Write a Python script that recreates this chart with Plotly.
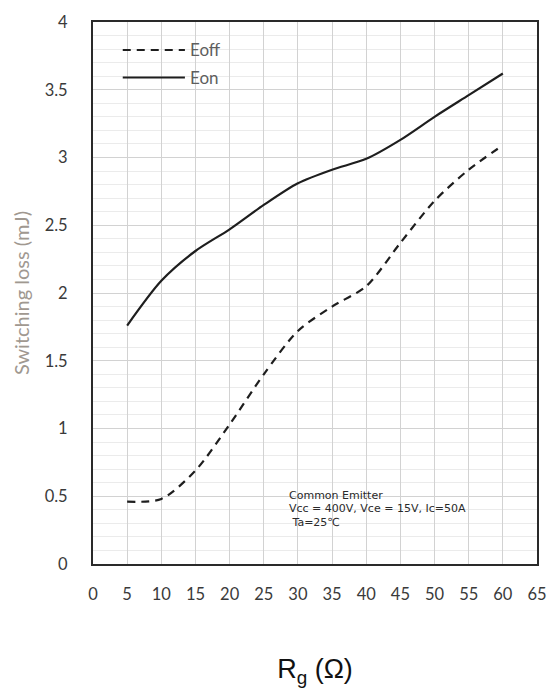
import plotly.graph_objects as go

# ---- data ----
rg = [5, 10, 15, 20, 25, 30, 35, 40, 45, 50, 55, 60]
eon = [1.76, 2.09, 2.31, 2.47, 2.65, 2.81, 2.91, 2.99, 3.13, 3.30, 3.46, 3.62]
eoff = [0.46, 0.48, 0.69, 1.03, 1.40, 1.72, 1.90, 2.05, 2.37, 2.68, 2.91, 3.09]
series_names = ["Eoff", "Eon"]
x_ticks = list(range(0, 70, 5))
y_ticks = [0, 0.5, 1, 1.5, 2, 2.5, 3, 3.5, 4]
y_tick_text = ["0", "0.5", "1", "1.5", "2", "2.5", "3", "3.5", "4"]
note_lines = ["Common Emitter", "Vcc = 400V, Vce = 15V, Ic=50A", " Ta=25℃"]

LINE_COLOR = "#1e1e1e"

fig = go.Figure()
fig.add_trace(go.Scatter(x=rg, y=eoff, mode="lines", name=series_names[0],
                         line=dict(color=LINE_COLOR, width=2.2, dash="8px,6px", shape="spline", smoothing=0.8)))
fig.add_trace(go.Scatter(x=rg, y=eon, mode="lines", name=series_names[1],
                         line=dict(color=LINE_COLOR, width=2.2, shape="spline", smoothing=0.8)))

# manual legend (long line samples like the reference)
legend_y = [0.9485, 0.8975]
legend_dash = ["8px,6px", "solid"]
for name, yy, dsh in zip(series_names, legend_y, legend_dash):
    fig.add_shape(type="line", xref="paper", yref="paper", x0=0.067, x1=0.207, y0=yy, y1=yy,
                  line=dict(color=LINE_COLOR, width=2, dash=dsh))
    fig.add_annotation(xref="paper", yref="paper", x=0.215, y=yy, text=name, showarrow=False,
                       xanchor="left", yanchor="middle",
                       font=dict(family="Lato", size=17, color="#5e5e5e"))

# condition note
note_y = [0.1270, 0.1020, 0.0770]
for txt, yy in zip(note_lines, note_y):
    fig.add_annotation(xref="paper", yref="paper", x=0.436, y=yy, text=txt, showarrow=False,
                       xanchor="left", yanchor="middle",
                       font=dict(family="DejaVu Sans", size=11, color="#2a2a2a"))

fig.update_layout(
    width=551, height=688,
    margin=dict(l=93, r=13, t=20, b=124),
    paper_bgcolor="white", plot_bgcolor="white",
    showlegend=False,
)
fig.update_xaxes(
    range=[0, 65], tickvals=x_ticks, ticks="", ticklabelstandoff=14, automargin=False,
    tickfont=dict(family="Lato", size=16.5, color="#3a3a3a"),
    showgrid=True, gridcolor="#d2d2d2", gridwidth=1,
    showline=True, linecolor="#2a2a2a", linewidth=2, mirror=True, zeroline=False,
    title=dict(text="R<sub>g</sub> (Ω)", font=dict(family="Arial", size=27, color="#111111"), standoff=60),
)
fig.update_yaxes(
    range=[0, 4], tickvals=y_ticks, ticktext=y_tick_text, ticks="", ticklabelstandoff=20,
    tickfont=dict(family="Lato", size=16.5, color="#3a3a3a"),
    showgrid=True, gridcolor="#d2d2d2", gridwidth=1,
    minor=dict(dtick=0.1, showgrid=True, gridcolor="#ebebeb", gridwidth=1),
    showline=True, linecolor="#2a2a2a", linewidth=2, mirror=True, zeroline=False,
    title=dict(text="Switching loss (mJ)", font=dict(family="Lato", size=20, color="#a09890"), standoff=10),
)

fig.write_html("out.html")
